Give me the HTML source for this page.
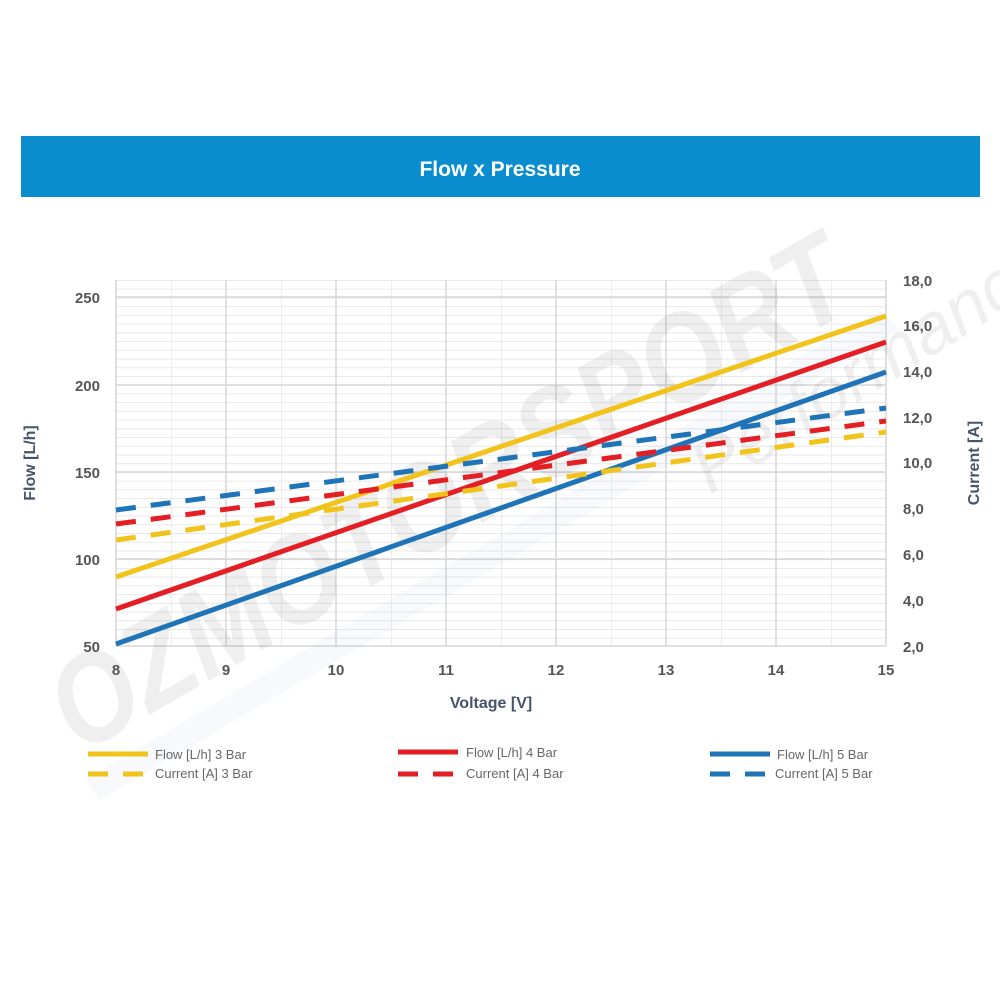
<!DOCTYPE html>
<html><head><style>
body{margin:0;background:#fff;}
svg text{font-family:"Liberation Sans",sans-serif;}
</style></head><body>
<svg width="1000" height="1000" viewBox="0 0 1000 1000" xmlns="http://www.w3.org/2000/svg">
<defs>
<pattern id="hm" x="116" y="280" width="770" height="8.725" patternUnits="userSpaceOnUse">
<line x1="0" y1="0.5" x2="770" y2="0.5" stroke="#e8e8e8" stroke-width="1"/>
</pattern>
<pattern id="vm" x="171" y="280" width="110" height="366" patternUnits="userSpaceOnUse">
<line x1="0.5" y1="0" x2="0.5" y2="366" stroke="#ececec" stroke-width="1"/>
</pattern>
</defs>
<rect width="1000" height="1000" fill="#fff"/>
<rect x="21" y="136" width="959" height="61" fill="#0a8dce"/>
<text x="500" y="176" text-anchor="middle" font-size="21" font-weight="bold" fill="#fff">Flow x Pressure</text>
<rect x="116" y="280" width="770" height="366" fill="url(#hm)"/>
<rect x="116" y="280" width="770" height="366" fill="url(#vm)"/>
<g stroke="#d6d6d6" stroke-width="1.5">
<line x1="116" x2="886" y1="297" y2="297"/>
<line x1="116" x2="886" y1="385" y2="385"/>
<line x1="116" x2="886" y1="472" y2="472"/>
<line x1="116" x2="886" y1="559" y2="559"/>
<line x1="116" x2="886" y1="646" y2="646"/>
<line y1="280" y2="646" x1="116" x2="116"/>
<line y1="280" y2="646" x1="226" x2="226"/>
<line y1="280" y2="646" x1="336" x2="336"/>
<line y1="280" y2="646" x1="446" x2="446"/>
<line y1="280" y2="646" x1="556" x2="556"/>
<line y1="280" y2="646" x1="666" x2="666"/>
<line y1="280" y2="646" x1="776" x2="776"/>
<line y1="280" y2="646" x1="886" x2="886"/>
</g>
<g font-size="15" font-weight="bold" fill="#555">
<text x="100" y="303" text-anchor="end">250</text>
<text x="100" y="391" text-anchor="end">200</text>
<text x="100" y="478" text-anchor="end">150</text>
<text x="100" y="565" text-anchor="end">100</text>
<text x="100" y="652" text-anchor="end">50</text>
<text x="903" y="286">18,0</text>
<text x="903" y="331">16,0</text>
<text x="903" y="377">14,0</text>
<text x="903" y="423">12,0</text>
<text x="903" y="468">10,0</text>
<text x="903" y="514">8,0</text>
<text x="903" y="560">6,0</text>
<text x="903" y="606">4,0</text>
<text x="903" y="652">2,0</text>
<text x="116" y="675" text-anchor="middle">8</text>
<text x="226" y="675" text-anchor="middle">9</text>
<text x="336" y="675" text-anchor="middle">10</text>
<text x="446" y="675" text-anchor="middle">11</text>
<text x="556" y="675" text-anchor="middle">12</text>
<text x="666" y="675" text-anchor="middle">13</text>
<text x="776" y="675" text-anchor="middle">14</text>
<text x="886" y="675" text-anchor="middle">15</text>
</g>
<g font-size="16" font-weight="bold" fill="#44546a">
<text x="491" y="708" text-anchor="middle">Voltage [V]</text>
<text transform="translate(35,463) rotate(-90)" text-anchor="middle">Flow [L/h]</text>
<text transform="translate(979,463) rotate(-90)" text-anchor="middle">Current [A]</text>
</g>
<!-- watermark -->
<g opacity="0.09" fill="#555">
<text transform="translate(80,755) rotate(-30)" font-size="125" font-weight="bold" font-style="italic" textLength="900" lengthAdjust="spacingAndGlyphs">OZMOTORSPORT</text>
<polygon points="85,780 100,800 900,330 880,310" fill="#6a9ac8" opacity="0.6"/>
<text transform="translate(710,495) rotate(-32)" font-size="72" font-style="italic" font-family="Liberation Serif,serif">Performance</text>
</g>
<g fill="none" stroke-width="5" stroke-linecap="butt">
<line x1="116" y1="577" x2="886" y2="316" stroke="#f2c41b"/>
<line x1="116" y1="609" x2="886" y2="342" stroke="#e31e24"/>
<line x1="116" y1="644" x2="886" y2="372" stroke="#1f73b7"/>
<line x1="116" y1="540" x2="886" y2="432" stroke="#f2c41b" stroke-dasharray="20 15"/>
<line x1="116" y1="524" x2="886" y2="421" stroke="#e31e24" stroke-dasharray="20 15"/>
<line x1="116" y1="510" x2="886" y2="408" stroke="#1f73b7" stroke-dasharray="20 15"/>
</g>
<g stroke-width="5">
<line x1="88" y1="754" x2="148" y2="754" stroke="#f2c41b"/>
<line x1="88" y1="774" x2="148" y2="774" stroke="#f2c41b" stroke-dasharray="20 15"/>
<line x1="398" y1="752" x2="458" y2="752" stroke="#e31e24"/>
<line x1="398" y1="774" x2="458" y2="774" stroke="#e31e24" stroke-dasharray="20 15"/>
<line x1="710" y1="754" x2="770" y2="754" stroke="#1f73b7"/>
<line x1="710" y1="774" x2="770" y2="774" stroke="#1f73b7" stroke-dasharray="20 15"/>
</g>
<g font-size="13" fill="#666">
<text x="155" y="759">Flow [L/h] 3 Bar</text>
<text x="155" y="778">Current [A] 3 Bar</text>
<text x="466" y="757">Flow [L/h] 4 Bar</text>
<text x="466" y="778">Current [A] 4 Bar</text>
<text x="777" y="759">Flow [L/h] 5 Bar</text>
<text x="775" y="778">Current [A] 5 Bar</text>
</g>
</svg>
</body></html>
